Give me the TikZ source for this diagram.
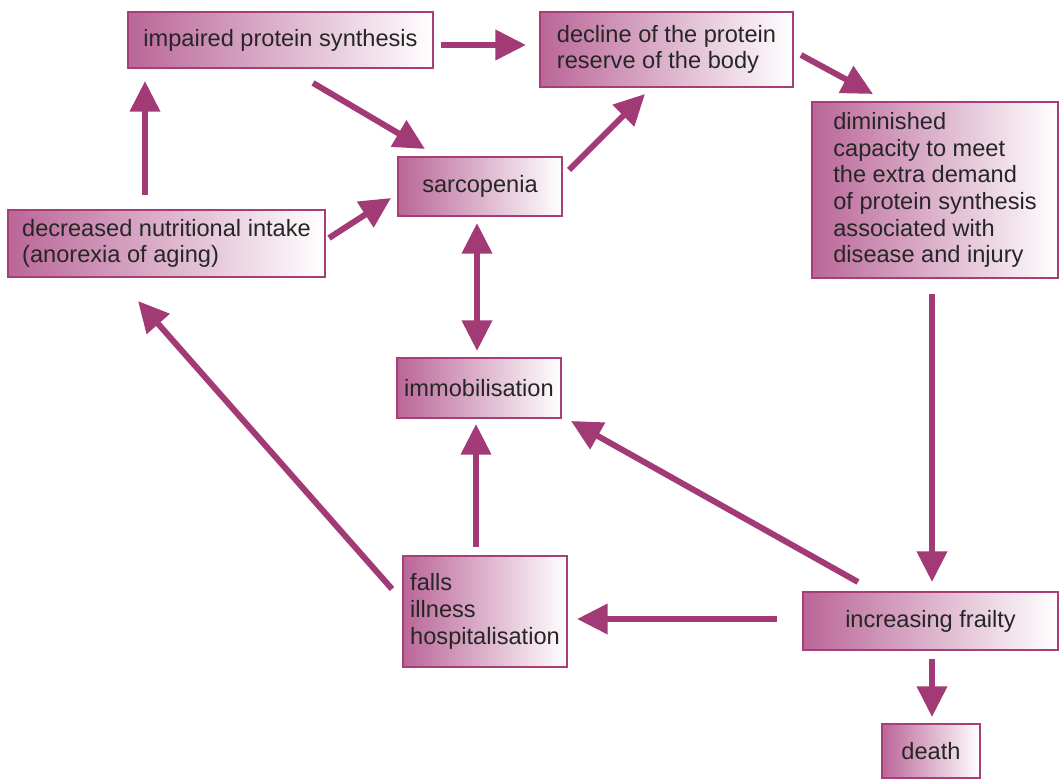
\documentclass[tikz,border=0pt]{standalone}
\usepackage{fontspec}
\setmainfont{Liberation Sans}
\usetikzlibrary{calc,arrows.meta}

\definecolor{boxleft}{RGB}{186,102,152}
\definecolor{boxline}{RGB}{168,62,118}
\definecolor{arrowcol}{RGB}{162,58,118}
\definecolor{textcol}{RGB}{38,38,38}

\tikzset{
  every picture/.style={line width=0.75pt},
  box/.style={draw=boxline, line width=1.5pt, left color=boxleft, right color=white,
    text=textcol, align=left, inner sep=0pt, font=\fontsize{17.7}{20}\selectfont},
  arr/.style={draw=arrowcol, line width=4.5pt, -{Triangle[length=23pt,width=22pt]}},
  dblarr/.style={draw=arrowcol, line width=4.5pt, {Triangle[length=23pt,width=22pt]}-{Triangle[length=23pt,width=22pt]}}
}

\begin{document}
\begin{tikzpicture}[x=0.75pt,y=0.75pt,yscale=-1,xscale=1]
    \useasboundingbox (0,0) rectangle (1060,780);

    % Boxes
    \node [box, minimum width=228.75pt, minimum height=42pt] (imp) at (280.5,40) {impaired protein synthesis};
    \node [box, minimum width=189.75pt, minimum height=56.25pt] (dec) at (666.5,49.5) {decline of the protein\\reserve of the body};
    \node [box, minimum width=184.5pt, minimum height=132pt] (dim) at (935,190) {diminished\\capacity to meet\\the extra demand\\of protein synthesis\\associated with\\disease and injury};
    \node [box, minimum width=123pt, minimum height=44.25pt] (sarc) at (480,186.5) {sarcopenia};
    \node [box, minimum width=237.75pt, minimum height=50.25pt] (intake) at (166.5,243.5) {decreased nutritional intake\\(anorexia of aging)};
    \node [box, minimum width=123pt, minimum height=45pt] (immob) at (479,388) {immobilisation};
    \node [box, minimum width=123pt, minimum height=83.25pt] (falls) at (485,611.5) {falls\\illness\\hospitalisation};
    \node [box, minimum width=191.25pt, minimum height=43.5pt] (frail) at (930.5,621) {increasing frailty};
    \node [box, minimum width=73.5pt, minimum height=40.5pt] (death) at (931,751) {death};

    % Arrows
    \draw [arr] ($(imp.east)+(7,5)$) -- ($(dec.west)+(-13,-4.5)$);
    \draw [arr] ($(dec.east)+(7,5.5)$) -- ($(dim.north)+(-62,-7)$);
    \draw [arr] ($(imp.south)+(32.5,14)$) -- ($(sarc.north)+(-55,-7)$);
    \draw [arr] ($(sarc.east)+(6,-16.5)$) -- ($(dec.south)+(-21.5,6)$);
    \draw [arr] ($(intake.east)+(3,-5.5)$) -- ($(sarc.west)+(-6,11.5)$);
    \draw [arr] ($(intake.north west)+(138,-14)$) -- ($(imp.south west)+(18,12)$);
    \draw [dblarr] ($(sarc.south)+(-3,6)$) -- ($(immob.north)+(-2,-6)$);
    \draw [arr] ($(dim.south)+(-3,15)$) -- ($(frail.north)+(1.5,-9)$);
    \draw [arr] ($(frail.north)+(-72.5,-9)$) -- ($(immob.south east)+(9,2)$);
    \draw [arr] ($(frail.west)+(-25,-2)$) -- ($(falls.east)+(9,7.5)$);
    \draw [arr] ($(falls.north)+(-9,-8)$) -- ($(immob.south)+(-3,5)$);
    \draw [arr] ($(falls.west)+(-10,-22.5)$) -- ($(intake.south)+(-28.5,23)$);
    \draw [arr] ($(frail.south)+(1.5,8)$) -- ($(death.north)+(1,-6)$);

\end{tikzpicture}
\end{document}
